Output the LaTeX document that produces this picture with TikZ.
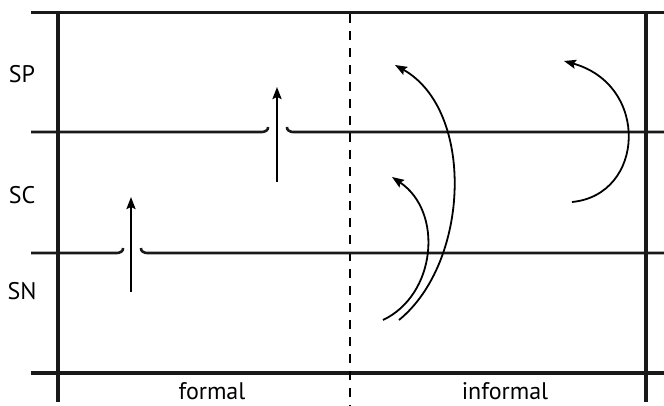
\documentclass[tikz,border=0pt]{standalone}
\usepackage{fontspec}
\setmainfont{PT Sans}
\usetikzlibrary{arrows.meta}
\begin{document}
\begin{tikzpicture}[x=1pt,y=-1pt,
  frame/.style={line width=3.3pt,color=black!90},
  level/.style={line width=2.6pt,color=black!90},
  uparrow/.style={line width=2.2pt,-{Stealth[length=12pt,width=9pt,inset=2pt]}},
  curvearrow/.style={line width=1.8pt,-{Stealth[length=12pt,width=9pt,inset=2pt]}},
  lbl/.style={font=\fontsize{24}{27}\selectfont,inner sep=0pt}]
\useasboundingbox (0,0) rectangle (664,406);
% frame
\draw[frame] (31,12.5) -- (664,12.5);
\draw[frame] (31,373) -- (664,373);
\draw[frame] (58,12.5) -- (58,402);
\draw[frame] (646,12.5) -- (646,402);
\draw[line width=2.2pt,dash pattern=on 9pt off 8pt] (350,14) -- (350,406);
% level lines with hooks
\draw[level] (31,132) -- (262,132) to[out=0,in=-80] (268,127);
\draw[level] (287,127) to[out=-100,in=180] (293,132) -- (664,132);
\draw[level] (31,253) -- (117,253) to[out=0,in=-80] (123,248);
\draw[level] (141,248) to[out=-100,in=180] (147,253) -- (664,253);
% labels
\node[lbl] (sp) at (22,74) {SP};
\node[lbl] (sc) at (22,195) {SC};
\node[lbl] (sn) at (22,291) {SN};
\node[lbl,anchor=base,text depth=0pt] (formal) at (212,399) {formal};
\node[lbl,anchor=base,text depth=0pt] (informal) at (505,399) {informal};
% straight arrows
\coordinate (a1s) at (277,182); \coordinate (a1e) at (277,87);
\coordinate (a2s) at (131,292); \coordinate (a2e) at (131,197);
\draw[uparrow] (a1s) -- (a1e);
\draw[uparrow] (a2s) -- (a2e);
% curved arrows
\coordinate (b1s) at (399,320); \coordinate (b1e) at (395,65);
\coordinate (b2s) at (383,320); \coordinate (b2e) at (392,177);
\coordinate (b3s) at (572,202); \coordinate (b3e) at (564,61);
\draw[curvearrow] (b1s) .. controls (470,262) and (475,110) .. (b1e);
\draw[curvearrow] (b2s) .. controls (436,295) and (444,212) .. (b2e);
\draw[curvearrow] (b3s) .. controls (645,195) and (650,85) .. (b3e);
\end{tikzpicture}
\end{document}
